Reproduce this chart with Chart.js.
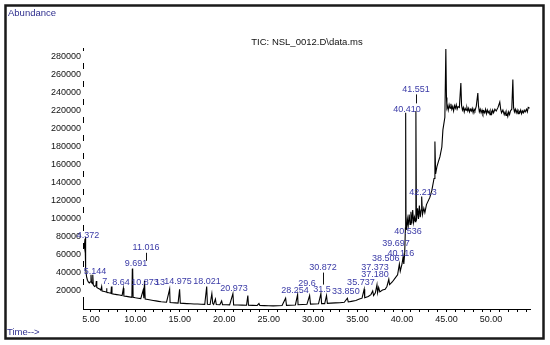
<!DOCTYPE html>
<html>
<head>
<meta charset="utf-8">
<script src="https://cdn.jsdelivr.net/npm/chart.js@4.4.0/dist/chart.umd.min.js"></script>
<style>
  html, body { margin: 0; padding: 0; background: #fff; }
  #wrap { width: 550px; height: 345px; position: relative; }
</style>
</head>
<body>
<div id="wrap"><canvas id="c" width="550" height="345"></canvas></div>
<script>
// ---- Data ----
const times = [
  4.15, 4.25, 4.33, 4.37, 4.42, 4.5, 4.6, 4.7, 4.8, 4.9, 5.0, 5.05, 5.15, 5.2, 5.26, 5.4, 5.55, 5.6, 5.65, 5.8,
  6.0, 6.1, 6.2, 6.25, 6.5, 6.7, 6.75, 6.8, 7.0, 7.25, 7.3, 7.36, 7.6, 7.9, 8.2, 8.5, 8.64, 8.7, 9.0, 9.3,
  9.6, 9.65, 9.69, 9.74, 10.0, 10.3, 10.6, 10.87, 10.95, 11.02, 11.1, 11.4, 11.7, 12.0, 12.3, 12.6, 12.9, 13.2, 13.5, 13.85,
  13.9, 14.2, 14.5, 14.8, 14.97, 15.05, 15.4, 15.8, 16.2, 16.6, 17.0, 17.4, 17.8, 18.02, 18.1, 18.4, 18.6, 18.7, 18.8, 19.0,
  19.1, 19.5, 19.7, 19.8, 20.2, 20.6, 20.97, 21.05, 21.5, 22.0, 22.5, 22.65, 22.72, 23.2, 23.7, 23.9, 24.0, 24.5, 25.0, 25.5,
  26.0, 26.5, 26.9, 27.0, 27.5, 28.0, 28.25, 28.3, 28.8, 29.3, 29.6, 29.7, 30.2, 30.6, 30.87, 30.95, 31.3, 31.5, 31.6, 32.0,
  32.5, 33.0, 33.5, 33.85, 33.95, 34.3, 34.8, 35.2, 35.5, 35.74, 35.8, 36.2, 36.5, 36.7, 36.8, 37.0, 37.18, 37.25, 37.37, 37.5,
  37.8, 38.1, 38.3, 38.51, 38.6, 38.9, 39.2, 39.5, 39.7, 39.8, 40.0, 40.12, 40.2, 40.3, 40.38, 40.41, 40.45, 40.5, 40.54, 40.6,
  40.7, 40.8, 40.9, 41.0, 41.1, 41.2, 41.3, 41.4, 41.5, 41.56, 41.62, 41.75, 41.85, 41.95, 42.05, 42.15, 42.21, 42.3, 42.45, 42.57,
  42.75, 43.13, 43.36, 43.6, 43.7, 43.78, 43.92, 44.1, 44.26, 44.48, 44.6, 44.82, 44.93, 45.0, 45.05, 45.1, 45.2, 45.3, 45.4, 45.5,
  45.6, 45.7, 45.8, 45.9, 46.0, 46.1, 46.2, 46.3, 46.45, 46.62, 46.7, 46.8, 46.9, 47.0, 47.1, 47.2, 47.3, 47.4, 47.5, 47.6,
  47.7, 47.8, 47.9, 48.0, 48.1, 48.2, 48.35, 48.53, 48.6, 48.7, 48.8, 48.9, 49.0, 49.1, 49.2, 49.3, 49.4, 49.5, 49.6, 49.7,
  49.8, 49.9, 50.0, 50.1, 50.2, 50.3, 50.45, 50.6, 50.8, 51.0, 51.1, 51.2, 51.35, 51.5, 51.6, 51.7, 51.8, 51.9, 52.0, 52.1,
  52.2, 52.35, 52.47, 52.55, 52.65, 52.75, 52.85, 52.95, 53.05, 53.15, 53.25, 53.35, 53.45, 53.55, 53.65, 53.75, 53.85, 54.0, 54.1, 54.2,
  54.35
];
const abundance = [
  62000, 70000, 78000, 80000, 45000, 36000, 32000, 30000, 29000, 30000, 38000, 30000, 28000, 38000, 27000, 25000, 26000, 31000, 24000, 23000,
  22000, 21000, 25000, 20000, 19500, 19000, 23000, 18500, 18000, 17500, 25000, 17000, 16500, 16000, 15500, 15000, 23000, 14500, 14000, 13500,
  13000, 44000, 45000, 13000, 12500, 12000, 11500, 21000, 12000, 31000, 11000, 10500, 10000, 9500, 9000, 8500, 8000, 7800, 7500, 22000,
  7200, 7000, 6800, 6500, 22000, 6400, 6200, 6000, 5800, 5600, 5500, 5300, 5200, 25000, 5200, 5000, 17000, 6000, 5000, 11000,
  5000, 4800, 9000, 4800, 4700, 4600, 17000, 4500, 4400, 4300, 4200, 15000, 4200, 4000, 3900, 6000, 3800, 3700, 3600, 3500,
  3600, 3800, 12000, 4000, 4200, 4500, 16000, 4700, 5000, 5200, 15000, 5400, 5600, 5800, 17000, 6000, 6000, 15000, 6200, 6500,
  6800, 7000, 7500, 12000, 7800, 8500, 9500, 11000, 12000, 22000, 12500, 14000, 16000, 20000, 15000, 18000, 27000, 18000, 24000, 19000,
  21000, 22000, 25000, 33000, 27000, 30000, 34000, 38000, 50000, 42000, 50000, 58000, 50000, 62000, 90000, 218000, 92000, 95000, 88000, 100000,
  93000, 105000, 94000, 108000, 95000, 110000, 96000, 102000, 97000, 220000, 98000, 112000, 100000, 115000, 102000, 110000, 125000, 105000, 112000, 107000,
  116000, 124000, 132000, 145000, 186000, 150000, 158000, 164000, 169000, 180000, 199000, 213000, 289000, 235000, 224000, 226000, 221000, 227000, 223000, 228000,
  222000, 225000, 220000, 226000, 223000, 227000, 222000, 225000, 224000, 251000, 226000, 221000, 224000, 219000, 223000, 221000, 224000, 220000, 223000, 219000,
  222000, 220000, 223000, 218000, 222000, 220000, 225000, 240000, 226000, 219000, 222000, 218000, 221000, 217000, 220000, 218000, 222000, 217000, 221000, 218000,
  220000, 216000, 220000, 217000, 221000, 218000, 222000, 220000, 224000, 230000, 222000, 218000, 221000, 216000, 219000, 215000, 218000, 214000, 219000, 216000,
  220000, 222000, 255000, 224000, 219000, 222000, 218000, 221000, 217000, 220000, 218000, 221000, 217000, 220000, 218000, 221000, 219000, 222000, 219000, 224000,
  223000
];

// Peak labels (retention time text, anchor time, anchor abundance)
const peakTexts  = ["4.372", "5.144", "7.", "8.64", "9.691", "11.016", "10.873", "13", "14.975", "18.021", "20.973",
                    "28.254", "29.6", "30.872", "31.5", "33.850", "35.737", "37.180", "37.373", "38.506", "40.116",
                    "39.697", "40.536", "42.213", "40.410", "41.551"];
const peakTimes  = [4.66, 5.45, 6.69, 8.37, 10.06, 11.19, 11.07, 12.76, 14.79, 18.05, 21.09,
                    27.95, 29.3, 31.1, 31.0, 33.68, 35.37, 36.95, 36.95, 38.18, 39.87,
                    39.31, 40.66, 42.35, 40.55, 41.56];
const peakLevels = [82000, 42000, 30000, 29000, 50000, 68000, 29000, 29000, 30000, 30000, 23000,
                    21000, 28000, 46000, 22000, 19000, 29000, 38000, 46000, 56000, 62000,
                    73000, 86000, 129000, 222000, 244000];
const peakTickDrop = [0, 0, 0, 0, 0, 8, 0, 0, 0, 0, 0,
                      0, 0, 12, 0, 0, 0, 0, 0, 0, 0,
                      0, 0, 0, 0, 9];

// Axis ticks
const yTickValues = [20000, 40000, 60000, 80000, 100000, 120000, 140000, 160000, 180000, 200000, 220000, 240000, 260000, 280000];
const xMajorTicks = [5, 10, 15, 20, 25, 30, 35, 40, 45, 50];
const xMajorLabels = ["5.00", "10.00", "15.00", "20.00", "25.00", "30.00", "35.00", "40.00", "45.00", "50.00"];

const titleText = "TIC: NSL_0012.D\\data.ms";
const yAxisText = "Abundance";
const xAxisText = "Time-->";

// ---- Chart ----
const FONT = "'Liberation Sans', Arial, sans-serif";
const LABEL_BLUE = '#3a3aa6';
const AXIS_BLUE = '#2e2e8e';

const decor = {
  id: 'decor',
  beforeDraw(chart) {
    const ctx = chart.ctx;
    ctx.save();
    ctx.fillStyle = '#fff';
    ctx.fillRect(0, 0, chart.width, chart.height);
    ctx.strokeStyle = '#1a1a1a';
    ctx.lineWidth = 2.5;
    ctx.strokeRect(5.5, 5.5, 538, 333);
    ctx.fillStyle = AXIS_BLUE;
    ctx.font = '9.5px ' + FONT;
    ctx.textBaseline = 'middle';
    ctx.textAlign = 'left';
    ctx.fillText(yAxisText, 8, 13);
    ctx.fillText(xAxisText, 7, 332);
    ctx.fillStyle = '#111';
    ctx.textAlign = 'center';
    ctx.fillText(titleText, 307, 42);
    ctx.restore();
  },
  afterDatasetsDraw(chart) {
    const ctx = chart.ctx;
    const xs = chart.scales.x, ys = chart.scales.y;
    ctx.save();
    // break the y axis line beside its tick labels, as in the reference
    ctx.fillStyle = '#fff';
    for (const v of yTickValues) {
      const py = ys.getPixelForValue(v);
      ctx.fillRect(xs.left - 1, py - 6, 2, 12);
    }
    ctx.font = '9px ' + FONT;
    ctx.fillStyle = LABEL_BLUE;
    ctx.strokeStyle = '#111';
    ctx.lineWidth = 1;
    ctx.textAlign = 'center';
    ctx.textBaseline = 'middle';
    for (let i = 0; i < peakTexts.length; i++) {
      const px = xs.getPixelForValue(peakTimes[i]);
      const py = ys.getPixelForValue(peakLevels[i]);
      ctx.fillText(peakTexts[i], px, py);
      if (peakTickDrop[i] > 0) {
        const lx = Math.round(px) + 0.5;
        ctx.beginPath();
        ctx.moveTo(lx, py + 5);
        ctx.lineTo(lx, py + 5 + peakTickDrop[i]);
        ctx.stroke();
      }
    }
    ctx.restore();
  }
};

new Chart(document.getElementById('c'), {
  type: 'line',
  data: {
    datasets: [{
      data: times.map((t, i) => ({ x: t, y: abundance[i] })),
      borderColor: '#000',
      borderWidth: 1.1,
      pointRadius: 0,
      tension: 0,
      fill: false
    }]
  },
  options: {
    responsive: false,
    animation: false,
    events: [],
    layout: { padding: { left: 0, top: 48, right: 20, bottom: 0 } },
    plugins: { legend: { display: false }, tooltip: { enabled: false }, title: { display: false } },
    scales: {
      x: {
        type: 'linear',
        min: 4.1,
        max: 54.4,
        afterFit(scale) { scale.height = 36; },
        afterBuildTicks(scale) {
          const arr = [];
          for (let v = 5; v <= 54; v++) arr.push({ value: v });
          scale.ticks = arr;
        },
        border: { display: true, color: '#000', width: 1 },
        grid: { display: true, drawOnChartArea: false, drawTicks: true, tickLength: 3, color: '#000' },
        ticks: {
          autoSkip: false,
          maxRotation: 0,
          padding: 2,
          color: '#111',
          font: { family: FONT, size: 9 },
          callback(v) {
            const k = xMajorTicks.indexOf(v);
            return k >= 0 ? xMajorLabels[k] : '';
          }
        }
      },
      y: {
        type: 'linear',
        min: 0,
        max: 290000,
        afterFit(scale) { scale.width = 83; },
        afterBuildTicks(scale) { scale.ticks = yTickValues.map(v => ({ value: v })); },
        border: { display: true, color: '#000', width: 1 },
        grid: { display: false, drawTicks: false },
        ticks: {
          padding: 2,
          color: '#111',
          font: { family: FONT, size: 9 },
          callback(v) { return String(v); }
        }
      }
    }
  },
  plugins: [decor]
});
</script>
</body>
</html>
